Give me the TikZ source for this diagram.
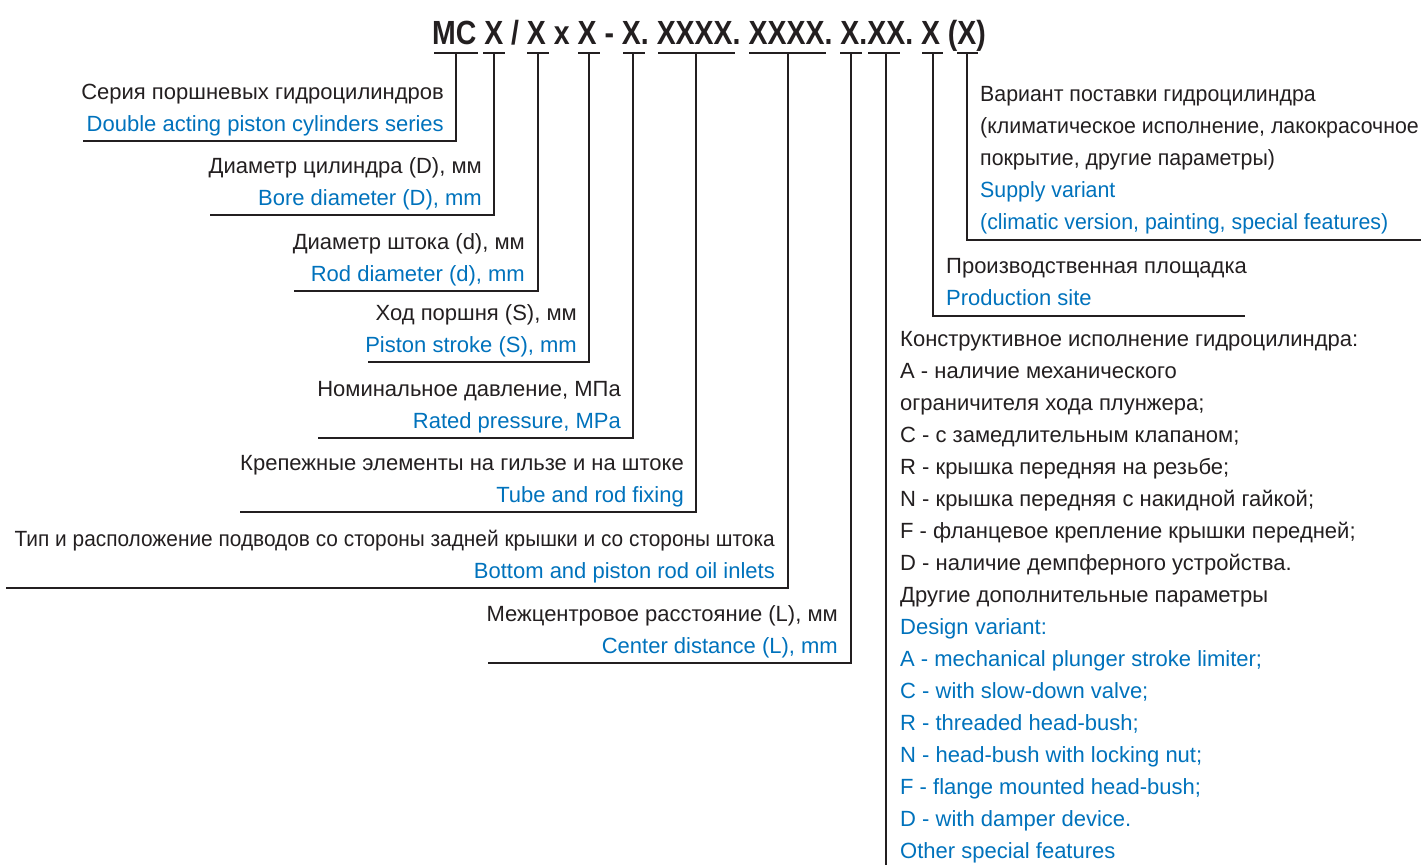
\documentclass[tikz,border=0pt]{standalone}
\usepackage{fontspec}
\setmainfont{Liberation Sans}
\newfontfamily\titlefont{Liberation Sans}[FakeStretch=0.85]
\newfontfamily\narrowsupply{Liberation Sans}[FakeStretch=0.97]
\newfontfamily\narrowinlet{Liberation Sans}[FakeStretch=0.948]
\definecolor{txtblue}{RGB}{0,114,188}
\definecolor{txtblack}{RGB}{35,31,32}
\tikzset{
  lbl/.style={inner sep=0pt, font=\fontsize{22}{26}\selectfont, text=txtblack},
  lblr/.style={lbl, anchor=base east},
  lbll/.style={lbl, anchor=base west},
  sup/.style={font=\narrowsupply\fontsize{22}{26}\selectfont},
  inl/.style={font=\narrowinlet\fontsize{22}{26}\selectfont},
  en/.style={text=txtblue},
  leader/.style={line width=2.6pt, draw=txtblack},
  titletext/.style={inner sep=0pt, anchor=base, font=\titlefont\bfseries\fontsize{33.5}{40}\selectfont, text=txtblack}
}
\begin{document}
\begin{tikzpicture}[x=1pt,y=-1pt]
\useasboundingbox (0,0) rectangle (1421,865);
\node[titletext] (title) at (709,44) {MC X / X x X - X. XXXX. XXXX. X.XX. X (X)};

% bars under title
\foreach \n/\a/\b/\v in {1/434/478/456, 2/483/505/494, 3/527/549/538, 4/578/600/589, 5/623/645/633, 6/658/735/696, 7/749/826/788, 8/840/862/851, 9/868/900/886, 10/922/943/933, 11/957/978/967}{
  \coordinate (b\n l) at (\a,53);
  \coordinate (b\n r) at (\b,53);
  \coordinate (b\n) at (\v,53);
  \draw[leader] (b\n l) -- (b\n r);
}

% left items: line ends
\coordinate (e1) at (83,141);
\coordinate (e2) at (210,215);
\coordinate (e3) at (294,291);
\coordinate (e4) at (368,362);
\coordinate (e5) at (318,438);
\coordinate (e6) at (240,512);
\coordinate (e7) at (6,588);
\coordinate (e8) at (488,663);
\foreach \n in {1,...,8}{
  \draw[leader] (b\n) |- (e\n);
}
\coordinate (e9) at (886,865);
\draw[leader] (b9) -- (e9);
\coordinate (e10) at (1245,316);
\draw[leader] (b10) |- (e10);
\coordinate (e11) at (1421,240);
\draw[leader] (b11) |- (e11);

% left texts
\node[lblr] (t1a) at (444,99) {Серия поршневых гидроцилиндров};
\node[lblr,en] (t1b) at (444,131) {Double acting piston cylinders series};
\node[lblr] (t2a) at (482,173) {Диаметр цилиндра (D), мм};
\node[lblr,en] (t2b) at (482,205) {Bore diameter (D), mm};
\node[lblr] (t3a) at (525,249) {Диаметр штока (d), мм};
\node[lblr,en] (t3b) at (525,281) {Rod diameter (d), mm};
\node[lblr] (t4a) at (577,320) {Ход поршня (S), мм};
\node[lblr,en] (t4b) at (577,352) {Piston stroke (S), mm};
\node[lblr] (t5a) at (621,396) {Номинальное давление, МПа};
\node[lblr,en] (t5b) at (621,428) {Rated pressure, MPa};
\node[lblr] (t6a) at (684,470) {Крепежные элементы на гильзе и на штоке};
\node[lblr,en] (t6b) at (684,502) {Tube and rod fixing};
\node[lblr,inl] (t7a) at (775,546) {Тип и расположение подводов со стороны задней крышки и со стороны штока};
\node[lblr,en] (t7b) at (775,578) {Bottom and piston rod oil inlets};
\node[lblr] (t8a) at (838,621) {Межцентровое расстояние (L), мм};
\node[lblr,en] (t8b) at (838,653) {Center distance (L), mm};

% supply variant
\node[lbll,sup] (s1) at (980,101) {Вариант поставки гидроцилиндра};
\node[lbll,sup] (s2) at (980,133) {(климатическое исполнение, лакокрасочное};
\node[lbll,sup] (s3) at (980,165) {покрытие, другие параметры)};
\node[lbll,sup,en] (s4) at (980,197) {Supply variant};
\node[lbll,sup,en] (s5) at (980,229) {(climatic version, painting, special features)};

% production site
\node[lbll] (p1) at (946,273) {Производственная площадка};
\node[lbll,en] (p2) at (946,305) {Production site};

% design variant
\node[lbll] (d1) at (900,346) {Конструктивное исполнение гидроцилиндра:};
\node[lbll] (d2) at (900,378) {A - наличие механического};
\node[lbll] (d3) at (900,410) {ограничителя хода плунжера;};
\node[lbll] (d4) at (900,442) {C - с замедлительным клапаном;};
\node[lbll] (d5) at (900,474) {R - крышка передняя на резьбе;};
\node[lbll] (d6) at (900,506) {N - крышка передняя с накидной гайкой;};
\node[lbll] (d7) at (900,538) {F - фланцевое крепление крышки передней;};
\node[lbll] (d8) at (900,570) {D - наличие демпферного устройства.};
\node[lbll] (d9) at (900,602) {Другие дополнительные параметры};
\node[lbll,en] (d10) at (900,634) {Design variant:};
\node[lbll,en] (d11) at (900,666) {A - mechanical plunger stroke limiter;};
\node[lbll,en] (d12) at (900,698) {C - with slow-down valve;};
\node[lbll,en] (d13) at (900,730) {R - threaded head-bush;};
\node[lbll,en] (d14) at (900,762) {N - head-bush with locking nut;};
\node[lbll,en] (d15) at (900,794) {F - flange mounted head-bush;};
\node[lbll,en] (d16) at (900,826) {D - with damper device.};
\node[lbll,en] (d17) at (900,858) {Other special features};
\end{tikzpicture}
\end{document}
